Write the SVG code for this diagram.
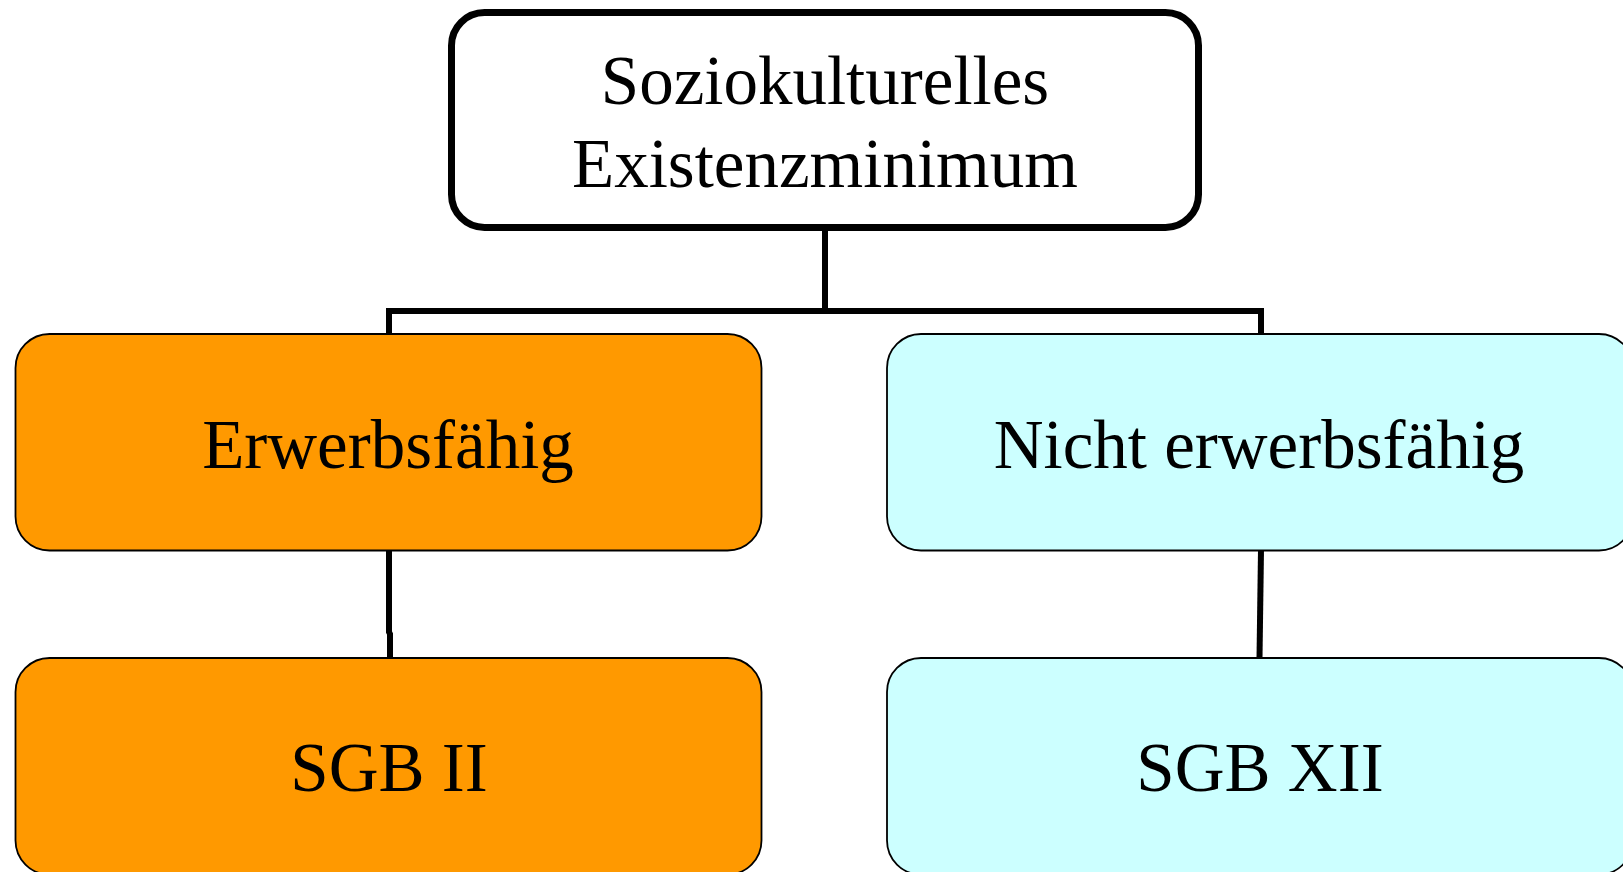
<svg xmlns="http://www.w3.org/2000/svg" width="1623" height="872" viewBox="0 0 1623 872">
<style>
.t{font-family:"Liberation Serif","Times New Roman",serif;font-size:69px;fill:#000;text-anchor:middle}
.orange{fill:#FF9900;stroke:#000;stroke-width:1.8}
.cyan{fill:#CCFFFF;stroke:#000;stroke-width:1.8}
.conn{fill:none;stroke:#000;stroke-width:6}
</style>
<rect width="1623" height="872" fill="#fff"/>
<g id="connectors">
<path class="conn" d="M825 227 V311 M389 311 H1261 M389 308 V334 M1261 308 V334"/>
<path class="conn" d="M389 550 V632 L390 634 V658"/>
<path class="conn" d="M1261 550 L1259.5 658"/>
</g>
<g id="root">
<rect x="451.5" y="12.5" width="747" height="215" rx="33" ry="33" fill="#fff" stroke="#000" stroke-width="7"/>
<text class="t" x="825" y="104">Soziokulturelles</text>
<text class="t" x="825" y="187">Existenzminimum</text>
</g>
<g id="erwerbsfaehig">
<rect class="orange" x="15.5" y="334" width="746" height="216.5" rx="34" ry="34"/>
<text class="t" x="388" y="468">Erwerbsfähig</text>
</g>
<g id="nicht-erwerbsfaehig">
<rect class="cyan" x="887" y="334" width="746" height="216.5" rx="34" ry="34"/>
<text class="t" x="1259" y="468">Nicht erwerbsfähig</text>
</g>
<g id="sgb2">
<rect class="orange" x="15.5" y="658" width="746" height="216.5" rx="34" ry="34"/>
<text class="t" x="389" y="791">SGB II</text>
</g>
<g id="sgb12">
<rect class="cyan" x="887" y="658" width="746" height="216.5" rx="34" ry="34"/>
<text class="t" x="1260" y="791">SGB XII</text>
</g>
</svg>
